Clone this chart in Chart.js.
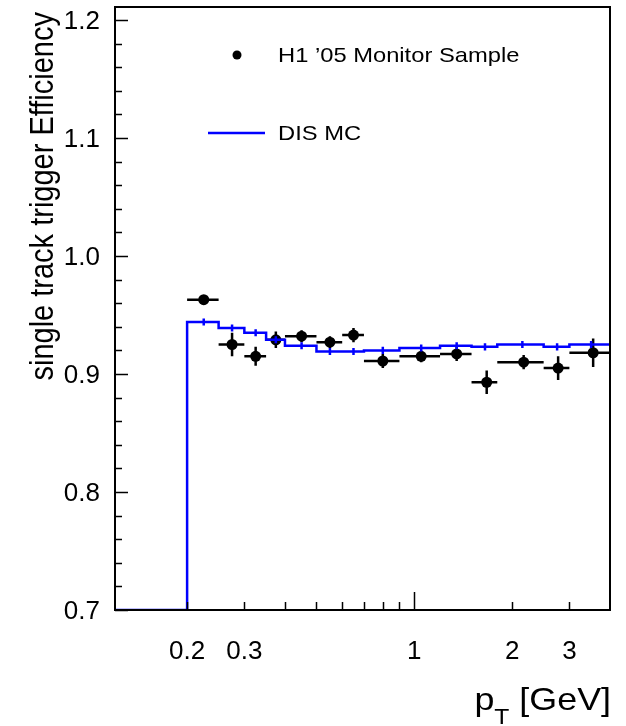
<!DOCTYPE html>
<html><head><meta charset="utf-8">
<script src="https://cdn.jsdelivr.net/npm/chart.js@4/dist/chart.umd.min.js"></script>
<style>html,body{margin:0;padding:0;background:#fff;} canvas{display:block;}</style>
</head><body>
<canvas id="c" width="626" height="726"></canvas>
<script>
// ---- data ----
const binLow     = [0.2, 0.25, 0.3, 0.35, 0.4, 0.5, 0.6, 0.7, 0.9, 1.2, 1.5, 1.8, 2.5, 3];
const binHigh    = [0.25, 0.3, 0.35, 0.4, 0.5, 0.6, 0.7, 0.9, 1.2, 1.5, 1.8, 2.5, 3, 4];
const dataCenter = [0.225, 0.275, 0.325, 0.375, 0.45, 0.55, 0.65, 0.8, 1.05, 1.35, 1.67, 2.17, 2.77, 3.55];
const dataEff    = [0.963, 0.925, 0.915, 0.929, 0.932, 0.927, 0.933, 0.911, 0.915, 0.917, 0.893, 0.910, 0.905, 0.918];
const dataErr    = [0.004, 0.010, 0.008, 0.007, 0.005, 0.005, 0.006, 0.006, 0.005, 0.006, 0.010, 0.006, 0.010, 0.012];

const mcEdges  = [0.12, 0.2, 0.25, 0.3, 0.35, 0.4, 0.5, 0.6, 0.7, 0.9, 1.2, 1.5, 1.8, 2.5, 3, 4];
const mcEff    = [0.7, 0.944, 0.939, 0.935, 0.929, 0.924, 0.919, 0.919, 0.920, 0.922, 0.924, 0.923, 0.925, 0.923, 0.925];
const mcErr    = [0, 0.003, 0.003, 0.003, 0.003, 0.003, 0.003, 0.003, 0.003, 0.003, 0.003, 0.003, 0.003, 0.003, 0.003];

const yLabelTicks = [0.7, 0.8, 0.9, 1.0, 1.1, 1.2];
const xLabelTicks = [0.2, 0.3, 1, 2, 3];
const xMinorTicks = [0.2, 0.3, 0.4, 0.5, 0.6, 0.7, 0.8, 0.9, 2, 3];
const xMajorTicks = [1];

const dataLabel = 'H1 \u201905 Monitor Sample';
const mcLabel = 'DIS MC';

// ---- chart ----
const mcPoints = mcEdges.map((x, i) => ({x: x, y: mcEff[Math.min(i, mcEff.length - 1)]}));
const dataPoints = dataCenter.map((x, i) => ({x: x, y: dataEff[i]}));
const FONT = '"Liberation Sans", Arial, sans-serif';

function stretchedText(ctx, text, x, y, sx) {
  ctx.save();
  ctx.translate(x, y);
  ctx.scale(sx, 1);
  ctx.fillText(text, 0, 0);
  ctx.restore();
  return ctx.measureText(text).width * sx;
}

const decor = {
  id: 'decor',
  beforeDatasetsDraw(chart) {
    const {ctx, scales: {x, y}} = chart;
    ctx.save();
    ctx.strokeStyle = '#000';
    ctx.lineWidth = 2.5;
    ctx.beginPath();
    for (let i = 0; i < dataCenter.length; i++) {
      const px = x.getPixelForValue(dataCenter[i]);
      const py = y.getPixelForValue(dataEff[i]);
      ctx.moveTo(x.getPixelForValue(binLow[i]), py);
      ctx.lineTo(Math.min(x.getPixelForValue(binHigh[i]), chart.chartArea.right), py);
      ctx.moveTo(px, y.getPixelForValue(dataEff[i] - dataErr[i]));
      ctx.lineTo(px, y.getPixelForValue(dataEff[i] + dataErr[i]));
    }
    ctx.stroke();
    ctx.restore();
  },
  afterDatasetsDraw(chart) {
    const {ctx, scales: {x, y}} = chart;
    ctx.save();
    ctx.strokeStyle = '#0000ff';
    ctx.lineWidth = 2.5;
    ctx.beginPath();
    for (let i = 1; i < mcEff.length; i++) {
      const c = (mcEdges[i] + mcEdges[i + 1]) / 2;
      const px = x.getPixelForValue(c);
      ctx.moveTo(px, y.getPixelForValue(mcEff[i] - mcErr[i]));
      ctx.lineTo(px, y.getPixelForValue(mcEff[i] + mcErr[i]));
    }
    ctx.stroke();
    ctx.restore();
  },
  afterDraw(chart) {
    const {ctx, chartArea: a, scales: {x, y}} = chart;
    ctx.save();
    // frame
    ctx.strokeStyle = '#000';
    ctx.lineWidth = 2;
    ctx.strokeRect(a.left, a.top, a.right - a.left, a.bottom - a.top);
    // y ticks (inward)
    ctx.lineWidth = 1.5;
    ctx.beginPath();
    for (let k = 0; k <= 25; k++) {
      const v = 0.7 + k * 0.02;
      const py = Math.round(y.getPixelForValue(v)) + 0.5;
      const len = (k % 5 === 0) ? 13 : 7;
      ctx.moveTo(a.left, py);
      ctx.lineTo(a.left + len, py);
    }
    // x ticks (inward)
    xMinorTicks.forEach(v => {
      const px = Math.round(x.getPixelForValue(v)) + 0.5;
      ctx.moveTo(px, a.bottom);
      ctx.lineTo(px, a.bottom - 8);
    });
    xMajorTicks.forEach(v => {
      const px = Math.round(x.getPixelForValue(v)) + 0.5;
      ctx.moveTo(px, a.bottom);
      ctx.lineTo(px, a.bottom - 18);
    });
    ctx.stroke();

    // legend
    ctx.fillStyle = '#000';
    ctx.beginPath();
    ctx.arc(237, 55, 4.5, 0, Math.PI * 2);
    ctx.fill();
    ctx.strokeStyle = '#0000ff';
    ctx.lineWidth = 2.5;
    ctx.beginPath();
    ctx.moveTo(208, 133);
    ctx.lineTo(265, 133);
    ctx.stroke();
    ctx.fillStyle = '#000';
    ctx.font = '21px ' + FONT;
    ctx.textAlign = 'left';
    ctx.textBaseline = 'alphabetic';
    stretchedText(ctx, dataLabel, 278, 62, 1.13);
    stretchedText(ctx, mcLabel, 278, 140, 1.13);

    // x title: p_T [GeV]
    const sx = 1.12;
    const bigF = '32px ' + FONT, subF = '22px ' + FONT;
    ctx.font = bigF; const wp = ctx.measureText('p').width * sx;
    ctx.font = subF; const wt = ctx.measureText('T').width * sx;
    ctx.font = bigF; const wg = ctx.measureText(' [GeV]').width * sx;
    let xs = 611 - (wp + wt + wg);
    ctx.font = bigF; stretchedText(ctx, 'p', xs, 710, sx); xs += wp;
    ctx.font = subF; stretchedText(ctx, 'T', xs, 724, sx); xs += wt;
    ctx.font = bigF; stretchedText(ctx, ' [GeV]', xs, 710, sx);

    // y title
    ctx.translate(53, 12);
    ctx.rotate(-Math.PI / 2);
    ctx.scale(1, 1.12);
    ctx.font = '29px ' + FONT;
    ctx.textAlign = 'right';
    ctx.fillText('single track trigger Efficiency', 0, 0);
    ctx.restore();
  }
};

new Chart(document.getElementById('c'), {
  type: 'line',
  data: {
    datasets: [
      {label: mcLabel, data: mcPoints, stepped: true, borderColor: '#0000ff', borderWidth: 2.5,
       pointRadius: 0, fill: false, tension: 0},
      {label: dataLabel, data: dataPoints, showLine: false, pointRadius: 5.5, pointBorderWidth: 0,
       pointBackgroundColor: '#000', pointBorderColor: '#000'}
    ]
  },
  options: {
    responsive: false, animation: false, devicePixelRatio: 1,
    layout: {padding: {top: 7, right: 16, left: 0, bottom: 0}},
    plugins: {legend: {display: false}, tooltip: {enabled: false}},
    scales: {
      x: {type: 'logarithmic', min: 0.12, max: 4,
          grid: {display: false, drawTicks: false}, border: {display: false},
          afterBuildTicks: s => { s.ticks = xLabelTicks.map(v => ({value: v})); },
          ticks: {autoSkip: false, maxRotation: 0, padding: 26, color: '#000',
                  font: {family: FONT, size: 26}, callback: v => String(v)},
          afterFit: s => { s.height = 116; s.paddingLeft = 0; s.paddingRight = 0; }},
      y: {type: 'linear', min: 0.7, max: 1.211,
          grid: {display: false, drawTicks: false}, border: {display: false},
          afterBuildTicks: s => { s.ticks = yLabelTicks.map(v => ({value: v})); },
          ticks: {padding: 15, labelOffset: 2, color: '#000', font: {family: FONT, size: 26},
                  callback: v => Number(v).toFixed(1)},
          afterFit: s => { s.width = 115; s.paddingTop = 0; s.paddingBottom = 0; }}
    }
  },
  plugins: [decor]
});
</script>
</body></html>
